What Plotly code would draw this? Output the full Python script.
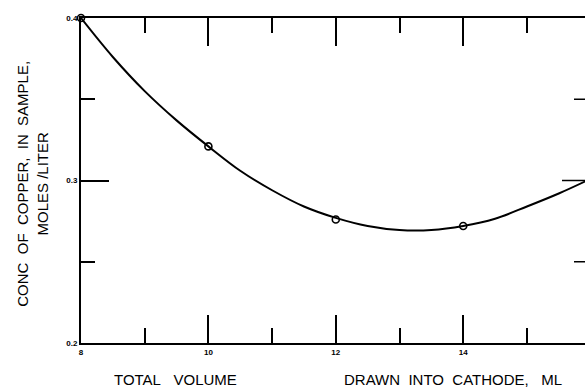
import plotly.graph_objects as go

# Observed points (total volume drawn, ml ; conc of copper, moles/liter)
x_obs = [8, 10, 12, 14]
y_obs = [0.400, 0.321, 0.276, 0.272]

# Smooth fitted curve
x_curve = [8, 8.5, 9, 9.5, 10, 10.5, 11, 11.5, 12, 12.5, 13, 13.5, 14, 14.5, 15, 15.5, 16]
y_curve = [0.400, 0.376, 0.355, 0.337, 0.321, 0.306, 0.294, 0.284, 0.277, 0.272, 0.2695, 0.2695, 0.272, 0.2765, 0.284, 0.292, 0.301]

x_ticks = [8, 10, 12, 14, 16]
x_ticklabels = ["8", "10", "12", "14", "16"]
y_ticks = [0.2, 0.3, 0.4]
y_ticklabels = ["0.2", "0.3", "0.4"]
right_ticks = [0.25, 0.3, 0.35]

FONT = "Liberation Sans, Arial, sans-serif"
W, H = 585, 389
L, R, T, B = 81, 0, 18, 46
PW = W - L - R
PH = H - T - B

fig = go.Figure()
fig.add_trace(go.Scatter(x=x_curve, y=y_curve, mode="lines",
                         line=dict(color="black", width=2, shape="spline"),
                         hoverinfo="skip", showlegend=False))
fig.add_trace(go.Scatter(x=x_obs, y=y_obs, mode="markers",
                         marker=dict(symbol="circle-open", size=7, color="black",
                                     line=dict(width=1.6, color="black")),
                         showlegend=False, cliponaxis=False))

axis_common = dict(showgrid=False, zeroline=False, showline=True, linecolor="black",
                   linewidth=2, ticks="inside", tickcolor="black", tickwidth=1.5,
                   ticklen=28,
                   tickfont=dict(family=FONT, size=8, color="black", weight="bold"))

fig.update_xaxes(range=[8, 8 + PW / 63.7], tickvals=x_ticks, ticktext=x_ticklabels,
                 mirror="ticks",
                 minor=dict(dtick=1, ticks="inside", ticklen=15, tickcolor="black", tickwidth=1.5),
                 **axis_common)
fig.update_yaxes(range=[0.2, 0.4], tickvals=y_ticks, ticktext=y_ticklabels,
                 mirror=False,
                 minor=dict(dtick=0.05, ticks="inside", ticklen=14, tickcolor="black", tickwidth=1.5),
                 **axis_common)

shapes = []
for v in right_ticks:
    ln = 23 if abs(v - 0.3) < 1e-9 else 11
    shapes.append(dict(type="line", xref="paper", yref="y", x0=1, x1=1 - ln / PW,
                       y0=v, y1=v, line=dict(color="black", width=1.5)))

title_y = -(379 - (H - B)) / PH
annotations = [
    dict(text="CONC\u00a0\u00a0OF\u00a0\u00a0COPPER,\u00a0\u00a0IN\u00a0\u00a0SAMPLE,<br>MOLES\u00a0/LITER",
         xref="paper", yref="paper", x=(33 - L) / PW, y=0.49, xanchor="center", yanchor="middle",
         textangle=-90, showarrow=False, font=dict(family=FONT, size=15, color="black")),
    dict(text="TOTAL\u00a0\u00a0\u00a0VOLUME", xref="paper", yref="paper",
         x=(175 - L) / PW, y=title_y, xanchor="center", yanchor="middle",
         showarrow=False, font=dict(family=FONT, size=15, color="black")),
    dict(text="DRAWN\u00a0\u00a0INTO\u00a0\u00a0CATHODE,\u00a0\u00a0\u00a0ML", xref="paper", yref="paper",
         x=(453 - L) / PW, y=title_y, xanchor="center", yanchor="middle",
         showarrow=False, font=dict(family=FONT, size=15, color="black")),
    dict(text="16", xref="x", yref="paper", x=16, y=0, yanchor="top", yshift=-4,
         showarrow=False, font=dict(family=FONT, size=8, color="black", weight="bold")),
]

fig.update_layout(width=W, height=H, margin=dict(l=L, r=R, t=T, b=B, pad=0),
                  paper_bgcolor="white", plot_bgcolor="white",
                  shapes=shapes, annotations=annotations, showlegend=False)

fig.write_html("out.html")
